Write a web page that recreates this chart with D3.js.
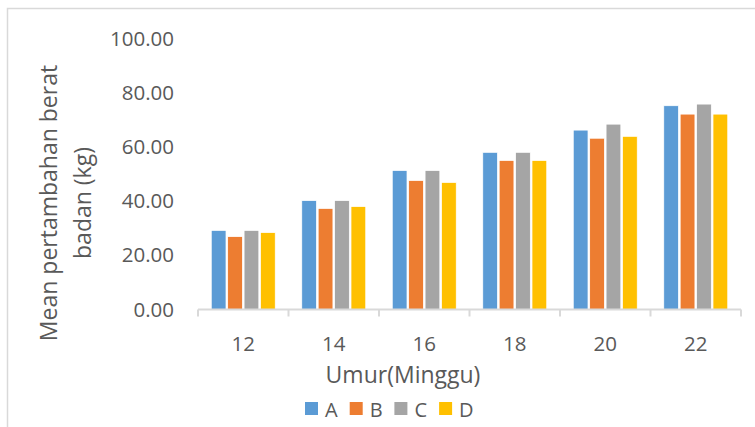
<!DOCTYPE html>
<html>
<head>
<meta charset="utf-8">
<script src="https://cdn.jsdelivr.net/npm/d3@7"></script>
<style>
  html, body { margin: 0; padding: 0; background: #fff; }
  svg { display: block; font-family: "Open Sans", "Liberation Sans", sans-serif; }
</style>
</head>
<body>
<svg id="chart" width="755" height="427"></svg>
<script>
// Age groups (weeks) and series
const categories = ["12", "14", "16", "18", "20", "22"];
const seriesNames = ["A", "B", "C", "D"];
const seriesColors = ["#5B9BD5", "#ED7D31", "#A5A5A5", "#FFC000"];

// Mean weight gain (kg) per series, one value per age group
const valuesA = [29.2, 40.2, 51.3, 58.0, 66.2, 75.2];
const valuesB = [26.9, 37.3, 47.6, 55.0, 63.2, 72.1];
const valuesC = [29.2, 40.2, 51.3, 58.0, 68.4, 75.8];
const valuesD = [28.4, 38.0, 46.9, 55.0, 63.9, 72.1];

const yTicks = [0, 20, 40, 60, 80, 100];
const yTitleLines = ["Mean pertambahan berat", "badan (kg)"];
const xTitle = "Umur(Minggu)";

const seriesValues = [valuesA, valuesB, valuesC, valuesD];
const rows = categories.map((c, i) => ({
  cat: c,
  vals: seriesNames.map((s, j) => ({ key: s, value: seriesValues[j][i], color: seriesColors[j] }))
}));

const svg = d3.select("#chart");
const textColor = "#595959";
const axisColor = "#D9D9D9";

// Outer chart frame
svg.append("rect")
  .attr("x", 7.5).attr("y", 8.5)
  .attr("width", 770).attr("height", 440)
  .attr("fill", "#fff")
  .attr("stroke", axisColor).attr("stroke-width", 1.5);

const plot = { left: 198, right: 741, top: 38.5, bottom: 309.5 };

const x0 = d3.scaleBand().domain(categories).range([plot.left, plot.right]).padding(0);
const groupPad = 13.25;
const x1 = d3.scaleBand().domain(seriesNames)
  .range([groupPad, x0.bandwidth() - groupPad]).paddingInner(0.1);
const y = d3.scaleLinear().domain([0, 100]).range([plot.bottom, plot.top]);

// Bars
const groups = svg.append("g").selectAll("g")
  .data(rows).join("g")
  .attr("transform", d => `translate(${x0(d.cat)},0)`);

groups.selectAll("rect")
  .data(d => d.vals).join("rect")
  .attr("x", d => x1(d.key))
  .attr("y", d => y(d.value))
  .attr("width", x1.bandwidth())
  .attr("height", d => y(0) - y(d.value))
  .attr("fill", d => d.color)
  .attr("stroke", "#fff").attr("stroke-width", 0.75);

// Y axis labels (no axis line)
const yAxis = svg.append("g")
  .attr("transform", `translate(174,0)`)
  .call(d3.axisLeft(y).tickValues(yTicks).tickFormat(d3.format(".2f")).tickSize(0).tickPadding(0));
yAxis.select(".domain").remove();
yAxis.selectAll("text")
  .attr("fill", textColor)
  .style("font-size", "20.5px")
  .style("font-family", "'Open Sans', sans-serif");

// X axis: baseline, category labels, tick marks between categories
const xAxis = svg.append("g")
  .attr("transform", `translate(0,${plot.bottom})`)
  .call(d3.axisBottom(x0).tickSize(0).tickPadding(27));
xAxis.select(".domain").remove();
xAxis.selectAll("text")
  .attr("fill", textColor)
  .style("font-size", "20.5px")
  .style("font-family", "'Open Sans', sans-serif");

svg.append("line")
  .attr("x1", plot.left).attr("x2", plot.right)
  .attr("y1", plot.bottom).attr("y2", plot.bottom)
  .attr("stroke", axisColor).attr("stroke-width", 2);

const boundaries = categories.map(c => x0(c)).concat([x0.range()[1]]);
svg.append("g").selectAll("line")
  .data(boundaries).join("line")
  .attr("x1", d => d).attr("x2", d => d)
  .attr("y1", plot.bottom).attr("y2", plot.bottom + 7)
  .attr("stroke", axisColor).attr("stroke-width", 2);

// Axis titles
svg.append("text")
  .attr("x", 403).attr("y", 374)
  .attr("text-anchor", "middle").attr("dominant-baseline", "central")
  .attr("fill", textColor).style("font-size", "23px")
  .text(xTitle);

const yTitle = svg.append("text")
  .attr("transform", "translate(65,203) rotate(-90)")
  .attr("text-anchor", "middle")
  .attr("fill", textColor).style("font-size", "23px");
yTitle.selectAll("tspan")
  .data(yTitleLines).join("tspan")
  .attr("x", 0)
  .attr("y", (d, i) => (i - 0.5) * 34)
  .attr("dominant-baseline", "central")
  .text(d => d);

// Legend
const legend = svg.append("g").attr("transform", "translate(305,402)");
const item = legend.selectAll("g")
  .data(seriesNames).join("g")
  .attr("transform", (d, i) => `translate(${i * 44.7},0)`);
item.append("rect")
  .attr("width", 13).attr("height", 13)
  .attr("fill", (d, i) => seriesColors[i]);
item.append("text")
  .attr("x", 20).attr("y", 7.5)
  .attr("dominant-baseline", "central")
  .attr("fill", textColor).style("font-size", "20px")
  .text(d => d);
</script>
</body>
</html>
